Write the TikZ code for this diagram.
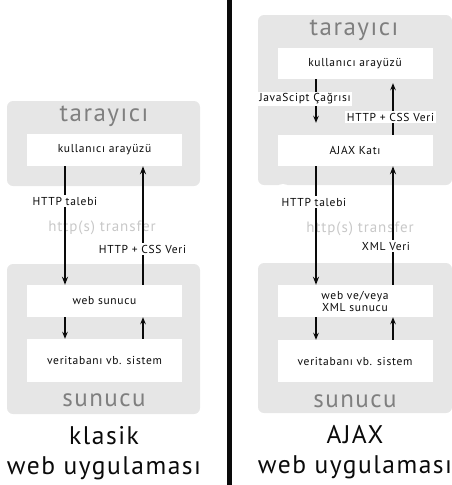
\documentclass[tikz,border=0pt]{standalone}
\usepackage{fontspec}
\setmainfont{PT Sans}[LetterSpace=6]
\usetikzlibrary{arrows.meta}
\definecolor{panelgray}{HTML}{E6E6E6}
\definecolor{titlegray}{HTML}{7F7F7F}
\definecolor{palegray}{HTML}{C8C8C8}
\definecolor{ink}{HTML}{0A0A0A}

\begin{document}
\begin{tikzpicture}[x=1pt, y=-1pt, every node/.style={font=\fontsize{11.5}{13}\selectfont, text=ink},
    layerbox/.style={fill=white, minimum width=155pt, inner sep=0pt, align=center},
    flow/.style={-{Stealth[length=8pt, width=6pt]}, line width=1.6pt, draw=ink},
    hop/.style={-{Stealth[length=7pt, width=5.5pt]}, line width=1.2pt, draw=ink},
    flowlabel/.style={fill=white, inner sep=1.5pt},
    bigtitle/.style={font=\fontsize{25}{28}\selectfont, text=titlegray},
    caption/.style={font=\fontsize{25.5}{29}\selectfont}]
      \useasboundingbox (0,0) rectangle (451,485);

      % klasik
      \fill[panelgray, rounded corners=6pt] (7,101) rectangle (200,186);
      \fill[panelgray, rounded corners=6pt] (7,264) rectangle (200,414);
      \node[bigtitle] (ltaray) at (104,116) {tarayıcı};
      \node[layerbox, minimum height=32pt] (lui) at (104.5,150) {kullanıcı arayüzü};
      \node[layerbox, minimum height=32pt] (lweb) at (104.5,301) {web sunucu};
      \node[layerbox, minimum height=43pt] (ldb) at (104.5,360.5) {veritabanı vb. sistem};
      \node[bigtitle] (lsunucu) at (104,400) {sunucu};
      \node[caption] (lklasik) at (104,436) {klasik};
      \node[caption] (lwebapp) at (104,468) {web uygulaması};
      \node[text=palegray, font=\fontsize{15}{17}\selectfont] (ltransfer) at (102,228) {http(s) transfer};
      \coordinate (lx) at (65,0);
      \coordinate (rx) at (143,0);
      \draw[flow] (lui.south -| lx) -- (lweb.north -| lx);
      \draw[flow] (lweb.north -| rx) -- (lui.south -| rx);
      \draw[hop] (lweb.south -| lx) -- (ldb.north -| lx);
      \draw[hop] (ldb.north -| rx) -- (lweb.south -| rx);
      \node[flowlabel] (lreq) at (65,201) {HTTP talebi};
      \node[flowlabel] (lresp) at (142.5,249) {HTTP + CSS Veri};

      \draw[line width=5pt, draw=ink] (229.5,0) -- (229.5,485);

      % AJAX
      \fill[panelgray, rounded corners=6pt] (258,15) rectangle (452,185);
      \fill[white] (283,193) circle (9pt);
      \fill[panelgray, rounded corners=6pt] (258,263) rectangle (452,413);
      \node[bigtitle] (rtaray) at (354,30) {tarayıcı};
      \node[layerbox, minimum height=31pt] (rui) at (355,63.5) {kullanıcı arayüzü};
      \node[layerbox, minimum height=31pt] (rajax) at (355,150.5) {AJAX Katı};
      \node[layerbox, minimum height=32pt, align=center] (rweb) at (355,301) {web ve/veya\\[-1pt]XML sunucu};
      \node[layerbox, minimum height=42pt] (rdb) at (355,361) {veritabanı vb. sistem};
      \node[bigtitle] (rsunucu) at (355,401) {sunucu};
      \node[caption] (rajaxtitle) at (355,435) {AJAX};
      \node[caption] (rwebapp) at (355,467) {web uygulaması};
      \node[text=palegray, font=\fontsize{15}{17}\selectfont] (rtransfer) at (360,229) {http(s) transfer};
      \coordinate (lx2) at (316,0);
      \coordinate (rx2) at (393,0);
      \draw[hop, shorten >=12pt] (rui.south -| lx2) -- (rajax.north -| lx2);
      \draw[hop, shorten >=4pt] (rajax.north -| rx2) -- (rui.south -| rx2);
      \draw[flow] (rajax.south -| lx2) -- (rweb.north -| lx2);
      \draw[flow] (rweb.north -| rx2) -- (rajax.south -| rx2);
      \draw[hop] (rweb.south -| lx2) -- (rdb.north -| lx2);
      \draw[hop] (rdb.north -| rx2) -- (rweb.south -| rx2);
      \node[flowlabel] (rjs) at (305,99) {JavaScipt Çağrısı};
      \node[flowlabel] (rcss) at (390.5,117) {HTTP + CSS Veri};
      \node[flowlabel] (rreq) at (314,202) {HTTP talebi};
      \node[flowlabel] (rxml) at (386,246) {XML Veri};
    \end{tikzpicture}
\end{document}
